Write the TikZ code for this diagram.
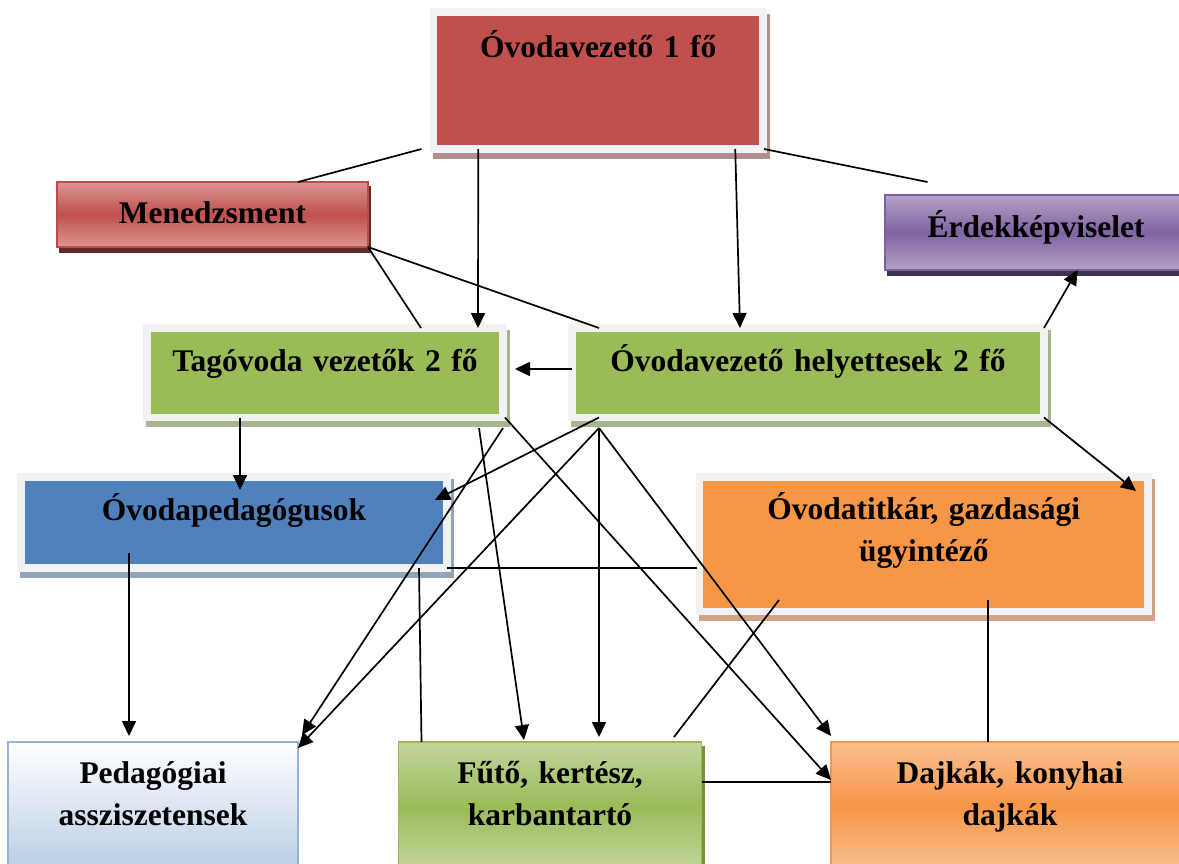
\documentclass[tikz,border=0pt]{standalone}
\usepackage{fontspec}
\setmainfont{Liberation Serif}
\usepackage{tikz}
\usetikzlibrary{arrows.meta, shadows}
\usepackage{xcolor}

\definecolor{framegray}{HTML}{F2F2F2}
\definecolor{leadred}{HTML}{C0504D}
\definecolor{leadshade}{HTML}{B48E8E}
\definecolor{mgmtlight}{HTML}{DA9694}
\definecolor{mgmtline}{HTML}{BE4B48}
\definecolor{mgmtshade}{HTML}{5F2A28}
\definecolor{voicelight}{HTML}{B3A2C7}
\definecolor{voicedark}{HTML}{8064A2}
\definecolor{voiceline}{HTML}{7D60A0}
\definecolor{voiceshade}{HTML}{3F3151}
\definecolor{leafgreen}{HTML}{9BBB59}
\definecolor{greenshade}{HTML}{A7B391}
\definecolor{leaflight}{HTML}{C3D69B}
\definecolor{leafline}{HTML}{98B954}
\definecolor{leafshade}{HTML}{76923C}
\definecolor{teachblue}{HTML}{4F81BD}
\definecolor{blueshade}{HTML}{94A3B8}
\definecolor{asstblue}{HTML}{B9CDE5}
\definecolor{asstline}{HTML}{95B3D7}
\definecolor{secorange}{HTML}{F79646}
\definecolor{orangeshade}{HTML}{CFA586}
\definecolor{orangelight}{HTML}{FAC090}

\newcommand{\chartfont}{\bfseries\fontsize{31.5}{42}\selectfont}

\begin{document}
\begin{tikzpicture}[x=1pt,y=-1pt,>={Triangle[length=15pt,width=14pt]}]
    \tikzstyle{framed}=[shape=rectangle,draw=framegray,line width=7.5pt,inner sep=0pt,outer sep=0pt,align=center,font=\chartfont]
    \tikzstyle{shaded}=[shape=rectangle,line width=1.5pt,inner sep=0pt,outer sep=0pt,align=center,font=\chartfont]
    \tikzstyle{frameshadow}=[drop shadow={shadow xshift=3pt,shadow yshift=-6pt,fill=#1,draw=#1,line width=7.5pt,opacity=1}]
    \tikzstyle{boxshadow}=[drop shadow={shadow xshift=2.5pt,shadow yshift=-5pt,fill=#1,draw=#1,line width=1.5pt,opacity=1}]
    \tikzstyle{link}=[line width=1.7pt,black]

    \useasboundingbox (0,0) rectangle (1179,863);
    \clip (0,0) rectangle (1179,863);

    % upper part
    \node[framed, fill=leadred, frameshadow=leadshade, text width=329.5pt, text height=45pt, text depth=92pt] (lead) at (598.25,80.5) {Óvodavezető 1 fő};
    \node[shaded, draw=mgmtline, top color=mgmtlight, bottom color=mgmtlight, middle color=leadred, boxshadow=mgmtshade, text width=311pt, text height=41pt, text depth=24pt] (mgmt) at (212.5,214.5) {Menedzsment};
    \node[shaded, draw=voiceline, top color=voicelight, bottom color=voicelight, middle color=voicedark, boxshadow=voiceshade, text width=302pt, text height=42pt, text depth=33pt] (voice) at (1036,232.5) {Érdekképviselet};
    \node[framed, fill=leafgreen, frameshadow=greenshade, text width=356pt, text height=43pt, text depth=46.5pt] (tag) at (325,372.75) {Tagóvoda vezetők 2 fő};
    \node[framed, fill=leafgreen, frameshadow=greenshade, text width=472pt, text height=43pt, text depth=46.5pt] (dep) at (808,372.75) {Óvodavezető helyettesek 2 fő};

    % middle row
    \node[framed, fill=teachblue, frameshadow=blueshade, text width=426pt, text height=43pt, text depth=48pt] (teach) at (234,522.5) {Óvodapedagógusok};
    \node[framed, fill=secorange, frameshadow=orangeshade, text width=448.5pt, text height=42pt, text depth=92.5pt] (sec) at (923.75,544.25) {Óvodatitkár, gazdasági\\ügyintéző};

    % bottom row
    \node[shaded, draw=asstline, top color=white, bottom color=asstblue, text width=290pt, text height=41pt, text depth=87pt] (asst) at (153,806) {Pedagógiai\\assziszetensek};
    \node[shaded, draw=leafline, top color=leaflight, bottom color=leaflight, middle color=leafgreen, boxshadow=leafshade, text width=303pt, text height=41pt, text depth=87pt] (misc) at (550,806) {Fűtő, kertész,\\karbantartó};
    \node[shaded, draw=secorange, top color=orangelight, bottom color=orangelight, middle color=secorange, text width=358pt, text height=41pt, text depth=87pt] (aides) at (1010,806) {Dajkák, konyhai\\dajkák};

    \path[link]
    ([xshift=-12pt]lead.south west) edge ([xshift=85.5pt]mgmt.north)
    ([xshift=1pt]lead.south east) edge ([shift={(42.5pt,13pt)}]voice.north west)
    (mgmt.south east) edge ([xshift=96pt]tag.north)
    (mgmt.south east) edge ([xshift=27pt]dep.north west)
    ([shift={(-2.5pt,-23.75pt)}]sec.west) edge (teach.south east)
    ([xshift=-28pt]teach.south east) edge ([xshift=23pt]misc.north west)
    ([shift={(79.5pt,11.5pt)}]sec.south west) edge ([shift={(-27.5pt,5pt)}]misc.north east)
    ([shift={(64.25pt,11.5pt)}]sec.south) edge ([xshift=-22pt]aides.north)
    ([yshift=24pt]misc.east) edge ([yshift=24pt]aides.west)
    ;

    \path[->, link]
    ([xshift=-120pt]lead.south) edge ([xshift=153pt]tag.north)
    ([xshift=137pt]lead.south) edge ([xshift=-68pt]dep.north)
    ([yshift=3.75pt]dep.west) edge ([shift={(12pt,3.75pt)}]tag.east)
    (dep.north east) edge ([xshift=41.5pt]voice.south)
    (dep.south east) edge ([shift={(-12pt,-14pt)}]sec.north east)
    ([xshift=-85pt]tag.south) edge ([shift={(6pt,-13pt)}]teach.north)
    ([xshift=2pt]tag.south east) edge ([yshift=26pt]aides.west)
    ([yshift=-10.5pt]tag.south east) edge ([shift={(4pt,7pt)}]asst.north east)
    ([shift={(-24pt,-10.5pt)}]tag.south east) edge ([shift={(-26pt,2pt)}]misc.north)
    ([xshift=27pt]dep.south west) edge ([shift={(-12pt,22.5pt)}]teach.east)
    ([shift={(27pt,-10.5pt)}]dep.south west) edge ([shift={(49pt,5pt)}]misc.north)
    ([shift={(27pt,-10.5pt)}]dep.south west) edge ([yshift=6pt]aides.north west)
    ([shift={(27pt,-10.5pt)}]dep.south west) edge ([yshift=-6pt]asst.north east)
    ([shift={(-105pt,15pt)}]teach.south) edge ([shift={(-24pt,6pt)}]asst.north)
    ;
\end{tikzpicture}
\end{document}
